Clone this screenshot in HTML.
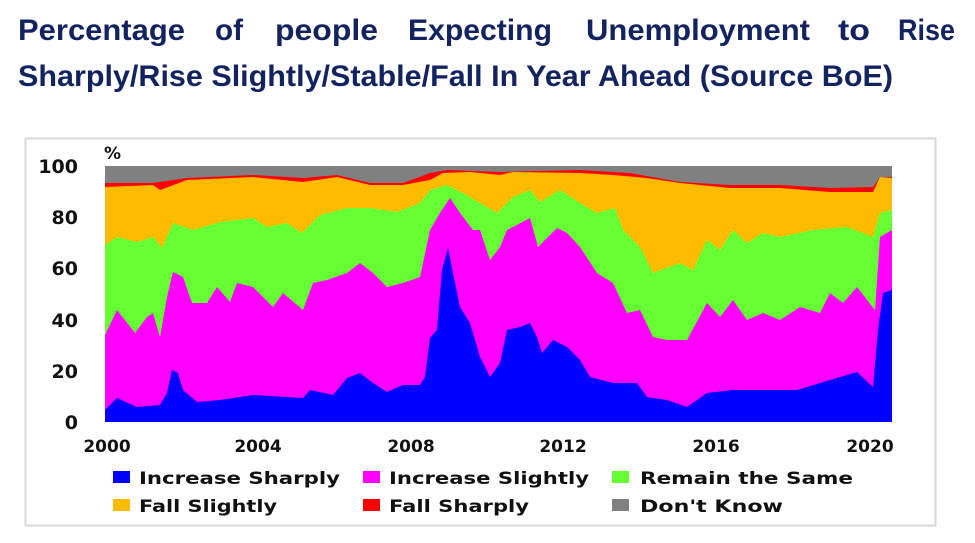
<!DOCTYPE html>
<html><head><meta charset="utf-8"><style>
html,body{margin:0;padding:0;background:#fff;width:975px;height:543px;overflow:hidden}
svg{display:block}
.t{font-family:"Liberation Sans",sans-serif;font-weight:bold;font-size:30px;fill:#13235f}
.ax{font-family:"DejaVu Sans",sans-serif;font-weight:bold;font-size:17px;fill:#111}
.ay{font-family:"DejaVu Sans",sans-serif;font-weight:bold;font-size:19px;fill:#111}
.lg{font-family:"DejaVu Sans",sans-serif;font-weight:bold;font-size:17px;fill:#111}
</style></head><body>
<svg width="975" height="543" viewBox="0 0 975 543">
<g class="t">
<text x="18" y="40" textLength="167" lengthAdjust="spacingAndGlyphs">Percentage</text>
<text x="215" y="40" textLength="28" lengthAdjust="spacingAndGlyphs">of</text>
<text x="275" y="40" textLength="103" lengthAdjust="spacingAndGlyphs">people</text>
<text x="408" y="40" textLength="144" lengthAdjust="spacingAndGlyphs">Expecting</text>
<text x="586" y="40" textLength="224" lengthAdjust="spacingAndGlyphs">Unemployment</text>
<text x="838" y="40" textLength="32" lengthAdjust="spacingAndGlyphs">to</text>
<text x="898" y="40" textLength="57" lengthAdjust="spacingAndGlyphs">Rise</text>
<text x="18" y="86" textLength="875" lengthAdjust="spacingAndGlyphs">Sharply/Rise Slightly/Stable/Fall In Year Ahead (Source BoE)</text>
</g>
<rect x="25.5" y="138.5" width="910" height="387" fill="#fff" stroke="#d8d8d8" stroke-width="2"/>
<rect x="105" y="166" width="787" height="256" fill="#808080"/>
<polygon fill="#ff0000" points="105,422 105,183 153,183 187,178 253,175 303,178 337,175 370,183 403,183 430,173 447,170 500,172 580,170 630,173 680,182 730,185 780,185 830,188 873,187 880,177 892,177 892,422"/>
<polygon fill="#ffbb00" points="105,422 105,187 153,185 160,190 187,180 253,177 303,182 337,177 370,185 403,185 430,180 443,173 470,172 500,175 513,172 580,173 613,175 647,178 680,183 730,188 780,188 830,192 873,192 880,177 892,178 892,422"/>
<polygon fill="#66ff33" points="105,422 105,245 117,237 137,242 153,237 162,248 173,223 193,230 220,222 253,218 267,227 287,223 302,233 320,215 347,208 370,208 397,212 420,203 430,190 447,185 463,193 480,203 497,213 513,197 530,190 540,202 560,190 580,203 597,213 615,208 623,230 640,247 653,273 680,263 693,270 707,240 720,250 733,230 747,243 763,233 780,237 813,230 847,227 873,237 880,213 892,210 892,422"/>
<polygon fill="#ff00ff" points="105,422 105,335 117,310 135,333 147,317 153,313 160,337 167,297 173,272 183,277 192,303 207,303 217,287 230,302 237,283 253,287 263,297 273,307 283,293 303,310 313,283 327,280 347,273 360,263 373,273 387,287 403,283 420,277 430,230 440,213 450,198 460,213 473,230 480,230 490,260 500,247 507,230 530,218 538,247 557,228 567,233 580,247 597,273 613,283 627,313 640,310 653,337 667,340 687,340 707,303 720,317 733,300 747,320 763,313 780,320 800,307 820,313 830,293 843,303 857,287 875,310 880,237 892,230 892,422"/>
<polygon fill="#0000ff" points="105,422 105,410 117,398 137,407 160,405 167,393 172,370 178,373 183,390 197,402 220,400 253,395 287,397 303,398 310,390 333,395 347,378 360,373 373,383 387,392 403,385 420,385 425,377 430,338 437,330 442,270 448,248 453,273 460,307 470,323 480,357 490,377 500,363 507,330 520,327 530,323 537,337 542,353 553,340 567,347 580,360 590,377 613,383 637,383 647,397 667,400 687,407 707,393 733,390 763,390 797,390 830,380 857,372 873,387 878,330 883,293 892,290 892,422"/>
<g class="ay" text-anchor="end">
<text x="78" y="173">100</text>
<text x="78" y="224">80</text>
<text x="78" y="275">60</text>
<text x="78" y="327">40</text>
<text x="78" y="378">20</text>
<text x="78" y="429">0</text>
</g>
<text class="ax" x="104" y="159" font-size="15">%</text>
<g class="ax" text-anchor="middle">
<text x="107" y="452">2000</text>
<text x="258" y="452">2004</text>
<text x="411" y="452">2008</text>
<text x="563" y="452">2012</text>
<text x="716" y="452">2016</text>
<text x="870" y="452">2020</text>
</g>
<rect x="113" y="471" width="17" height="12" fill="#0000ff"/>
<rect x="363" y="471" width="17" height="12" fill="#ff00ff"/>
<rect x="612" y="471" width="17" height="12" fill="#66ff33"/>
<rect x="113" y="499" width="17" height="12" fill="#ffbb00"/>
<rect x="363" y="499" width="17" height="12" fill="#ff0000"/>
<rect x="612" y="499" width="17" height="12" fill="#808080"/>
<g class="lg">
<text x="139" y="484" textLength="201" lengthAdjust="spacingAndGlyphs">Increase Sharply</text>
<text x="389" y="484" textLength="200" lengthAdjust="spacingAndGlyphs">Increase Slightly</text>
<text x="640" y="484" textLength="213" lengthAdjust="spacingAndGlyphs">Remain the Same</text>
<text x="139" y="512" textLength="138" lengthAdjust="spacingAndGlyphs">Fall Slightly</text>
<text x="389" y="512" textLength="140" lengthAdjust="spacingAndGlyphs">Fall Sharply</text>
<text x="640" y="512" textLength="143" lengthAdjust="spacingAndGlyphs">Don't Know</text>
</g>
</svg>
</body></html>
